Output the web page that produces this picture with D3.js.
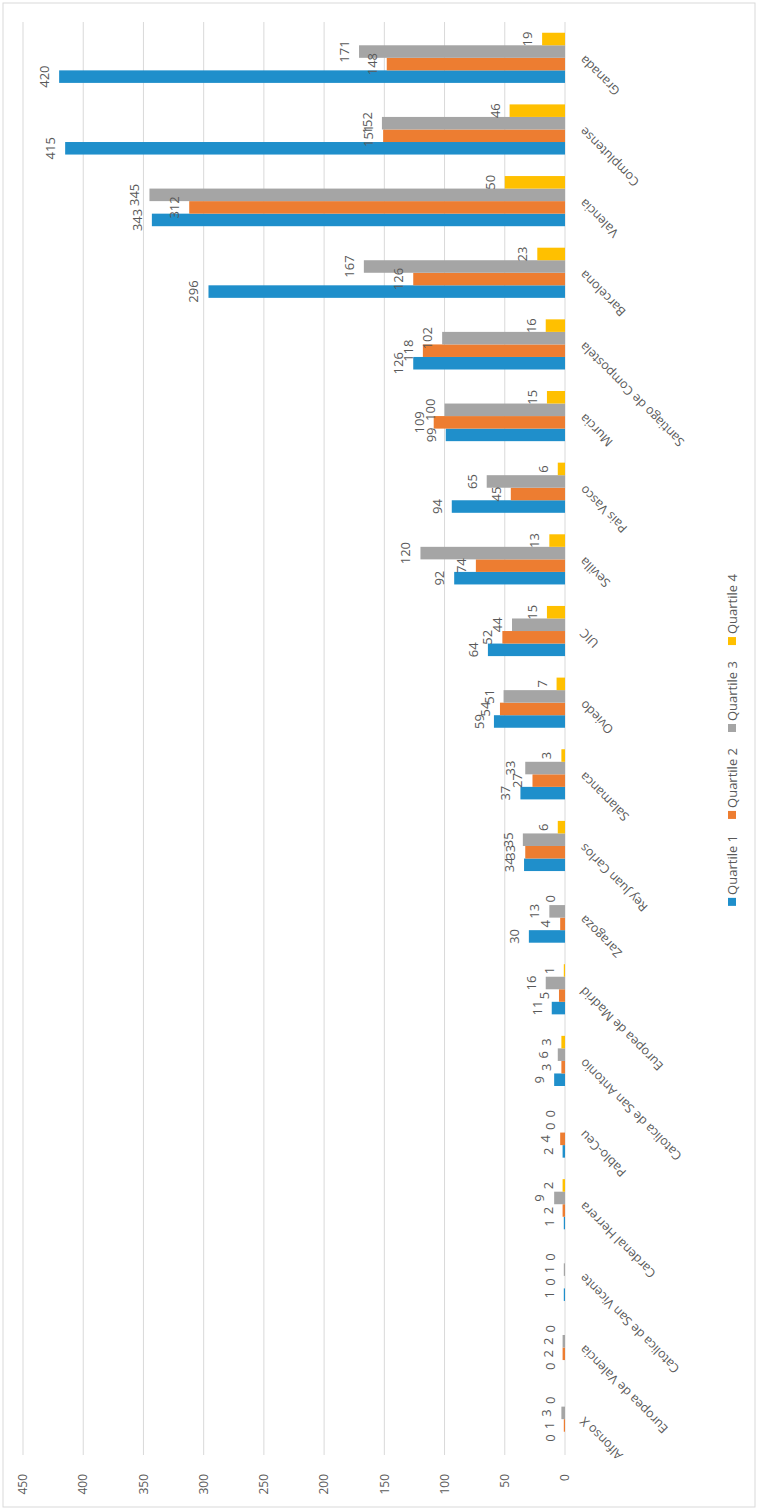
<!doctype html>
<html>
  <head>
    <title>Quartiles por universidad</title>
    <style>
      body { margin: 0; background: #fff; }
      text { font-family: 'Open Sans', 'Noto Sans', sans-serif; fill: #595959; }
    </style>
  </head>
  <body>
    <svg width='759' height='1510'></svg>

  <script src='https://cdnjs.cloudflare.com/ajax/libs/d3/7.8.5/d3.min.js'></script>
  <script>
// Data (categories in original left-to-right order).
var categories = ['Alfonso X', 'Europea de Valencia', 'Catolica de San Vicente', 'Cardenal Herrera',
  'Pablo-Ceu', 'Catolica de San Antonio', 'Europea de Madrid', 'Zaragoza', 'Rey Juan Carlos',
  'Salamanca', 'Oviedo', 'UIC', 'Sevilla', 'Pais Vasco', 'Murcia', 'Santiago de Compostela',
  'Barcelona', 'Valencia', 'Complutense', 'Granada'];
var seriesNames = ['Quartile 1', 'Quartile 2', 'Quartile 3', 'Quartile 4'];
var quartile1 = [0, 0, 1, 1, 2, 9, 11, 30, 34, 37, 59, 64, 92, 94, 99, 126, 296, 343, 415, 420];
var quartile2 = [1, 2, 0, 2, 4, 3, 5, 4, 33, 27, 54, 52, 74, 45, 109, 118, 126, 312, 151, 148];
var quartile3 = [3, 2, 1, 9, 0, 6, 16, 13, 35, 33, 51, 44, 120, 65, 100, 102, 167, 345, 152, 171];
var quartile4 = [0, 0, 0, 2, 0, 3, 1, 0, 6, 3, 7, 15, 13, 6, 15, 16, 23, 50, 46, 19];
var yTicks = [0, 50, 100, 150, 200, 250, 300, 350, 400, 450];
var colors = ['#1f8fcb', '#ed7d31', '#a5a5a5', '#ffc000'];

var series = [quartile1, quartile2, quartile3, quartile4];

var svg = d3.select('svg'),
  W = 1510, H = 759;

// The whole chart is drawn as a normal column chart, then turned a quarter
// turn counter-clockwise to match the picture.
var g = svg.append('g').attr('transform', 'translate(0,' + W + ') rotate(-90)');

g.append('rect')
  .attr('x', 3).attr('y', 3).attr('width', W - 6).attr('height', H - 7)
  .attr('fill', 'white').attr('stroke', '#d9d9d9');

var x0 = d3.scaleBand().domain(categories).range([55, 1488]).paddingInner(0.3).paddingOuter(0.15),
  x1 = d3.scaleBand().domain(d3.range(4)).range([0, x0.bandwidth()]),
  y = d3.scaleLinear().domain([0, 450]).range([565, 23]);

// gridlines
g.selectAll('.grid').data(yTicks).enter().append('line')
  .attr('x1', 55).attr('x2', 1488)
  .attr('y1', function(d) { return y(d); })
  .attr('y2', function(d) { return y(d); })
  .attr('stroke', '#d9d9d9').attr('stroke-width', 1);

// value tick labels
g.selectAll('.ytick').data(yTicks).enter().append('text')
  .attr('x', 36).attr('y', function(d) { return y(d); })
  .attr('dy', '0.35em').attr('text-anchor', 'end')
  .style('font-size', '12px')
  .text(function(d) { return d; });

// bars + labels
var groups = g.selectAll('.cat').data(categories).enter().append('g')
  .attr('transform', function(d) { return 'translate(' + x0(d) + ',0)'; });

groups.selectAll('rect').data(function(d, i) {
    return series.map(function(s, k) { return {k: k, v: s[i]}; });
  }).enter().append('rect')
  .attr('x', function(d) { return x1(d.k); })
  .attr('width', x1.bandwidth())
  .attr('y', function(d) { return y(d.v); })
  .attr('height', function(d) { return y(0) - y(d.v); })
  .attr('fill', function(d) { return colors[d.k]; });

groups.selectAll('text').data(function(d, i) {
    return series.map(function(s, k) { return {k: k, v: s[i]}; });
  }).enter().append('text')
  .attr('x', function(d) { return x1(d.k) + x1.bandwidth() / 2; })
  .attr('y', function(d) { return y(d.v) - 10; })
  .attr('text-anchor', 'middle')
  .style('font-size', '13px')
  .text(function(d) { return d.v; });

// category labels, slanted
g.selectAll('.xlab').data(categories).enter().append('text')
  .attr('transform', function(d) {
    return 'translate(' + (x0(d) + x0.bandwidth() / 2) + ',582) rotate(-45)';
  })
  .attr('dy', '0.35em').attr('text-anchor', 'end')
  .style('font-size', '12.5px')
  .text(function(d) { return d; });

// legend
var legend = g.append('g');
var lx = 0;
seriesNames.forEach(function(name, k) {
  var item = legend.append('g').attr('transform', 'translate(' + lx + ',0)');
  item.append('rect').attr('x', 0).attr('y', -4).attr('width', 8).attr('height', 8)
    .attr('fill', colors[k]);
  var t = item.append('text').attr('x', 11).attr('dy', '0.35em')
    .style('font-size', '13px').text(name);
  lx += 11 + t.node().getComputedTextLength() + 16;
});
legend.attr('transform', 'translate(' + (770 - (lx - 16) / 2) + ',732)');
  </script>
  </body>
</html>
